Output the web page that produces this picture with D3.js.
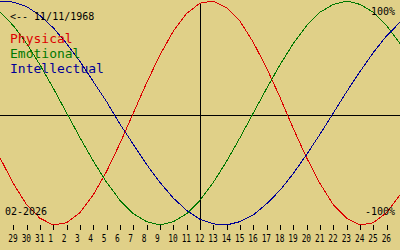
<!DOCTYPE html>
<html>
<head>
<meta charset="utf-8">
<script src="https://cdn.jsdelivr.net/npm/d3@7"></script>
<style>
  html, body { margin: 0; padding: 0; background: #e0d088; }
  svg { display: block; }
  text { font-family: "DejaVu Sans Mono", monospace; }
</style>
</head>
<body>
<div id="graph"></div>
<script>
// dates shown along the bottom (28 Jan .. 27 Feb)
var dayLabels = ["28","29","30","31","1","2","3","4","5","6","7","8","9","10","11","12",
    "13","14","15","16","17","18","19","20","21","22","23","24","25","26","27"];

// biorhythm values per day, -1 .. 1
var physical = [-0.40,-0.63,-0.82,-0.94,-1.00,-0.98,-0.89,-0.73,-0.52,-0.27,0.00,0.27,0.52,0.73,0.89,0.98,
    1.00,0.94,0.82,0.63,0.40,0.14,-0.14,-0.40,-0.63,-0.82,-0.94,-1.00,-0.98,-0.89,-0.73];
var emotional = [0.90,0.78,0.62,0.43,0.22,0.00,-0.22,-0.43,-0.62,-0.78,-0.90,-0.97,-1.00,-0.97,-0.90,-0.78,
    -0.62,-0.43,-0.22,0.00,0.22,0.43,0.62,0.78,0.90,0.97,1.00,0.97,0.90,0.78,0.62];
var intellectual = [1.00,0.99,0.95,0.87,0.76,0.62,0.46,0.28,0.10,-0.10,-0.28,-0.46,-0.62,-0.76,-0.87,-0.95,
    -0.99,-1.00,-0.97,-0.91,-0.81,-0.69,-0.54,-0.37,-0.19,0.00,0.19,0.37,0.54,0.69,0.81];

var seriesNames = ["Physical", "Emotional", "Intellectual"];
var seriesColors = ["#dd0000", "#007800", "#000096"];
var birthLabel = "<-- 11/11/1968";
var monthLabel = "02-2026";
var todayLabel = "12";

var width = 400, height = 250,
    plotBottom = 225, midLine = 115;

var x = d3.scalePoint().domain(dayLabels).range([0, width]);
var y = d3.scaleLinear().domain([-1, 1]).range([plotBottom, 1]);

var svg = d3.select("#graph").append("svg")
    .attr("width", width)
    .attr("height", height);

svg.append("rect")
    .attr("width", width)
    .attr("height", height)
    .attr("fill", "#e0d088");

// horizontal middle line
svg.append("line")
    .attr("x1", 0).attr("x2", width)
    .attr("y1", midLine + 0.5).attr("y2", midLine + 0.5)
    .attr("stroke", "#000")
    .attr("shape-rendering", "crispEdges");

// vertical line on today
svg.append("line")
    .attr("x1", Math.floor(x(todayLabel)) + 0.5).attr("x2", Math.floor(x(todayLabel)) + 0.5)
    .attr("y1", 3).attr("y2", plotBottom + 5)
    .attr("stroke", "#000")
    .attr("shape-rendering", "crispEdges");

// day axis
var shown = dayLabels.slice(1, dayLabels.length - 1);
var axis = svg.append("g")
    .attr("transform", "translate(0," + plotBottom + ")")
    .call(d3.axisBottom(x).tickValues(shown).tickSize(5).tickSizeOuter(0));
axis.select(".domain").remove();
axis.selectAll("line").attr("stroke", "#000").attr("shape-rendering", "crispEdges");
axis.selectAll("text")
    .attr("text-anchor", "start")
    .attr("x", -5.5)
    .attr("y", 17)
    .attr("dy", null)
    .attr("fill", "#000")
    .attr("font-size", 10)
    .attr("font-family", "DejaVu Sans Mono")
    .attr("textLength", d => d.length * 4.7)
    .attr("lengthAdjust", "spacingAndGlyphs");

// the three curves
var line = d3.line()
    .x((d, i) => x(dayLabels[i]))
    .y(d => y(d));

svg.selectAll(".curve")
    .data([physical, emotional, intellectual])
    .enter().append("path")
    .attr("class", "curve")
    .attr("d", line)
    .attr("fill", "none")
    .attr("stroke", (d, i) => seriesColors[i])
    .attr("stroke-width", 1)
    .attr("shape-rendering", "crispEdges");

// labels
svg.append("text")
    .attr("x", 10).attr("y", 20)
    .attr("font-size", 10)
    .text(birthLabel);

svg.selectAll(".legend")
    .data(seriesNames)
    .enter().append("text")
    .attr("class", "legend")
    .attr("x", 10)
    .attr("y", (d, i) => 43 + i * 15)
    .attr("font-size", 13)
    .attr("fill", (d, i) => seriesColors[i])
    .text(d => d);

svg.append("text")
    .attr("x", 395).attr("y", 15)
    .attr("text-anchor", "end")
    .attr("font-size", 10)
    .text("100%");

svg.append("text")
    .attr("x", 395).attr("y", 215)
    .attr("text-anchor", "end")
    .attr("font-size", 10)
    .text("-100%");

svg.append("text")
    .attr("x", 5).attr("y", 215)
    .attr("font-size", 10)
    .text(monthLabel);
</script>
</body>
</html>
